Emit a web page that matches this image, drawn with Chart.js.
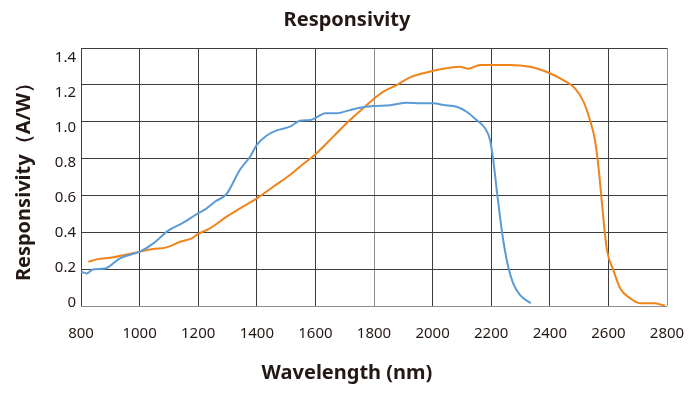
<!DOCTYPE html>
<html>
<head>
<meta charset="utf-8">
<script src="https://cdn.jsdelivr.net/npm/chart.js@4/dist/chart.umd.min.js"></script>
<style>
  html, body { margin: 0; padding: 0; background: #fff; }
  #wrap { width: 690px; height: 395px; }
</style>
</head>
<body>
<div id="wrap"><canvas id="respChart" width="690" height="395"></canvas></div>
<script>
// wavelength (nm) and responsivity (A/W)
const blueWavelength = [800, 820, 842, 882, 933, 1001, 1047, 1098, 1149, 1195, 1229, 1257, 1297, 1342, 1377, 1400, 1434, 1468, 1513, 1547, 1582, 1604, 1633, 1673, 1718, 1752, 1798, 1855, 1912, 1957, 2002, 2037, 2082, 2116, 2150, 2179, 2196, 2207, 2219, 2230, 2241, 2258, 2275, 2298, 2335];
const blueResp = [0.186, 0.177, 0.199, 0.204, 0.259, 0.295, 0.34, 0.409, 0.452, 0.499, 0.53, 0.566, 0.608, 0.738, 0.81, 0.874, 0.925, 0.953, 0.973, 1.005, 1.009, 1.024, 1.046, 1.046, 1.063, 1.076, 1.085, 1.089, 1.103, 1.1, 1.1, 1.091, 1.081, 1.054, 1.009, 0.964, 0.901, 0.792, 0.629, 0.485, 0.358, 0.213, 0.123, 0.06, 0.015];

const orangeWavelength = [825, 854, 910, 956, 1001, 1047, 1092, 1138, 1178, 1200, 1240, 1297, 1343, 1400, 1456, 1513, 1547, 1604, 1661, 1718, 1763, 1798, 1832, 1877, 1923, 1968, 2014, 2059, 2093, 2122, 2162, 2264, 2332, 2400, 2446, 2486, 2515, 2537, 2554, 2566, 2577, 2588, 2596, 2617, 2640, 2674, 2708, 2754, 2793];
const orangeResp = [0.24, 0.253, 0.264, 0.28, 0.295, 0.309, 0.318, 0.349, 0.367, 0.391, 0.421, 0.485, 0.53, 0.584, 0.647, 0.711, 0.756, 0.829, 0.919, 1.009, 1.073, 1.122, 1.163, 1.199, 1.241, 1.263, 1.281, 1.293, 1.298, 1.288, 1.308, 1.308, 1.298, 1.263, 1.226, 1.181, 1.109, 1.009, 0.901, 0.756, 0.575, 0.394, 0.295, 0.195, 0.096, 0.042, 0.015, 0.015, 0.002];

const yTickValues = [0, 0.2, 0.4, 0.6, 0.8, 1.0, 1.2, 1.4];

const textColor = "#231815";
const gridDark = "#3d3d3d";
const gridLight = "#8e8e8e";
const fontFamily = "'Noto Sans', 'Open Sans', sans-serif";

function toPoints(xs, ys) {
    return xs.map((x, i) => ({ x: x, y: ys[i] }));
}

const ctx = document.getElementById("respChart").getContext("2d");
new Chart(ctx, {
    type: "line",
    data: {
        datasets: [{
            label: "Standard",
            data: toPoints(blueWavelength, blueResp),
            borderColor: "#5b9bd5",
            borderWidth: 2,
            pointRadius: 0,
            cubicInterpolationMode: "monotone",
            fill: false
        }, {
            label: "Extended",
            data: toPoints(orangeWavelength, orangeResp),
            borderColor: "#f0841a",
            borderWidth: 2,
            pointRadius: 0,
            cubicInterpolationMode: "monotone",
            fill: false
        }]
    },
    options: {
        responsive: false,
        animation: false,
        layout: { padding: { left: 4, right: 0, top: 0, bottom: 0 } },
        plugins: {
            legend: { display: false },
            tooltip: { enabled: false },
            title: {
                display: true,
                text: "Responsivity",
                color: textColor,
                font: { family: fontFamily, size: 20, weight: "bold" },
                padding: { top: 8, bottom: 16 }
            },
            // x-axis caption, centred on the whole canvas like the original
            subtitle: {
                display: true,
                position: "bottom",
                text: "Wavelength (nm)",
                color: textColor,
                font: { family: fontFamily, size: 20, weight: "bold" },
                padding: { top: 0, bottom: 10 }
            }
        },
        scales: {
            x: {
                type: "linear",
                min: 800,
                max: 2800,
                ticks: {
                    stepSize: 200,
                    padding: 0,
                    color: textColor,
                    font: { family: fontFamily, size: 15 },
                    callback: value => String(value)
                },
                grid: {
                    color: c => (c.tick && (c.tick.value === 2800 || c.tick.value === 1800)) ? gridLight : gridDark,
                    lineWidth: 1,
                    drawTicks: true,
                    tickLength: 19,
                    tickColor: "rgba(0,0,0,0)"
                },
                border: { display: false },
                afterFit: scale => { scale.height = 55; }
            },
            y: {
                position: "left",
                min: 0,
                max: 1.4,
                ticks: { stepSize: 0.2, display: false },
                grid: {
                    color: c => (c.tick && c.tick.value === 0) ? gridLight : gridDark,
                    lineWidth: 1,
                    drawTicks: false
                },
                border: { display: false },
                afterFit: scale => { scale.width = 0; }
            },
            yLabels: {
                position: "left",
                min: -0.0171,
                max: 1.457,
                grid: { display: false, drawTicks: false },
                border: { display: false },
                ticks: {
                    padding: 5,
                    color: textColor,
                    font: { family: fontFamily, size: 15 },
                    callback: value => value === 0 ? "0" : value.toFixed(1)
                },
                afterBuildTicks: scale => {
                    scale.ticks = yTickValues.map(v => ({ value: v }));
                },
                title: {
                    display: true,
                    text: "Responsivity（A/W）",
                    color: textColor,
                    font: { family: fontFamily, size: 20, weight: "bold" },
                    padding: { top: 8, bottom: 0 }
                },
                afterFit: scale => { scale.width = 77; }
            },
            // empty right-hand strip so the plot ends where the original does
            yRight: {
                position: "right",
                min: 0,
                max: 1.4,
                ticks: { display: false },
                grid: { display: false, drawTicks: false },
                border: { display: false },
                afterFit: scale => { scale.width = 23; }
            }
        }
    }
});
</script>
</body>
</html>
